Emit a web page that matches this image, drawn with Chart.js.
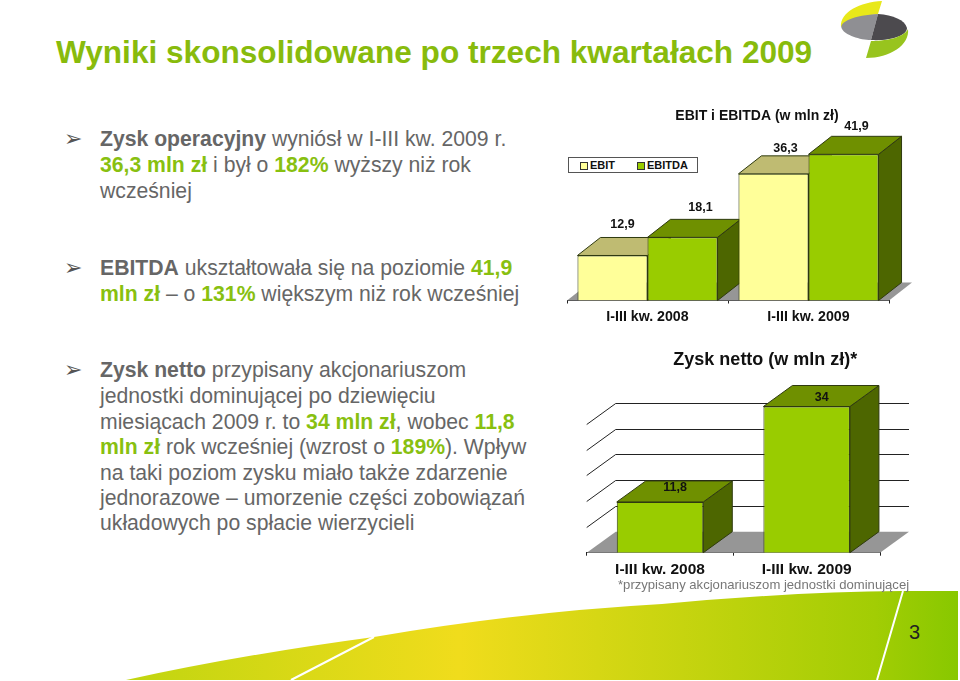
<!DOCTYPE html>
<html lang="pl">
<head>
<meta charset="utf-8">
<title>Wyniki skonsolidowane</title>
<script src="https://cdn.jsdelivr.net/npm/chart.js@4"></script>
<style>
  html, body { margin: 0; padding: 0; background: #fff; }
  #page { position: relative; width: 960px; height: 681px; overflow: hidden; font-family: "Liberation Sans", sans-serif; }
  #page canvas { position: absolute; }
  #decor { position: absolute; left: 0; top: 0; }
  .title { position: absolute; left: 56px; top: 34px; font-size: 31.6px; font-weight: bold; color: #88bb0c; white-space: nowrap; }
  .line { position: absolute; left: 100px; font-size: 21.2px; line-height: 26px; color: #666; white-space: nowrap; }
  .line b { color: #666; }
  .line b.g { color: #88c010; }
  .arrow { position: absolute; left: 64px; font-family: "DejaVu Sans"; font-size: 22px; line-height: 26px; color: #555; }
  #legend { position: absolute; left: 568px; top: 157px; width: 128px; height: 14px; border: 1px solid #555; background: #fff; font-size: 11px; font-weight: bold; color: #111; line-height: 14px; }
  #legend span { position: absolute; white-space: nowrap; }
  #legend i { position: absolute; top: 4px; width: 6px; height: 6px; border: 1px solid #333; }
  .note { position: absolute; left: 618px; top: 577px; font-size: 13.1px; color: #777; white-space: nowrap; }
  .pageno { position: absolute; left: 909px; top: 621px; font-size: 20px; color: #222; }
</style>
</head>
<body>
<div id="page">
  <svg id="decor" width="960" height="681">
    <defs>
      <linearGradient id="band" x1="126" x2="958" y1="0" y2="0" gradientUnits="userSpaceOnUse">
        <stop offset="0" stop-color="#c0d510"/>
        <stop offset="0.4" stop-color="#f0dc1c"/>
        <stop offset="0.9" stop-color="#a2cd04"/>
        <stop offset="1" stop-color="#88c800"/>
      </linearGradient>
    </defs>
    <path d="M126,680 Q240,655 374,637 Q520,612 662,604 Q790,592 902,591 L958,591 L958,680 Z" fill="url(#band)"/>
    <path d="M374,637 L291,680 M903,591 L877,680" stroke="#fff" stroke-width="2" fill="none"/>
    <path d="M882,1 C860,2 840,12 841,27 Q858,16 878,14 Z" fill="#e8e81a"/>
    <path d="M878,14 C855,15 838,22 842,29 C845,35 860,40 871,40 Z" fill="#8f8f93"/>
    <path d="M878,14 L871,40 C890,41 907,36 907,28 C905,20 893,15 878,14 Z" fill="#4c4a4e"/>
    <path d="M908,29 C905,36 890,41 871,41 L866,58 C890,58 910,45 908,29 Z" fill="#98c41e"/>
  </svg>

  <div class="title">Wyniki skonsolidowane po trzech kwartałach 2009</div>

  <div class="arrow" style="top:126px">➢</div>
  <div class="line" style="top:126px"><b>Zysk operacyjny</b> wyniósł w I-III kw. 2009 r.</div>
  <div class="line" style="top:152px"><b class="g">36,3 mln zł</b> i był o <b class="g">182%</b> wyższy niż rok</div>
  <div class="line" style="top:178px">wcześniej</div>

  <div class="arrow" style="top:255px">➢</div>
  <div class="line" style="top:255px"><b>EBITDA</b> ukształtowała się na poziomie <b class="g">41,9</b></div>
  <div class="line" style="top:281px"><b class="g">mln zł</b> – o <b class="g">131%</b> większym niż rok wcześniej</div>

  <div class="arrow" style="top:357px">➢</div>
  <div class="line" style="top:357px"><b>Zysk netto</b> przypisany akcjonariuszom</div>
  <div class="line" style="top:383px">jednostki dominującej po dziewięciu</div>
  <div class="line" style="top:409px">miesiącach 2009 r. to <b class="g">34 mln zł</b>, wobec <b class="g">11,8</b></div>
  <div class="line" style="top:434px"><b class="g">mln zł</b> rok wcześniej (wzrost o <b class="g">189%</b>). Wpływ</div>
  <div class="line" style="top:460px">na taki poziom zysku miało także zdarzenie</div>
  <div class="line" style="top:485px">jednorazowe – umorzenie części zobowiązań</div>
  <div class="line" style="top:510px">układowych po spłacie wierzycieli</div>

  <canvas id="ebitChart" width="394" height="230" style="left:560px;top:100px"></canvas>
  <div id="legend"></div>
  <canvas id="netChart" width="390" height="240" style="left:570px;top:340px"></canvas>

  <div class="note">*przypisany akcjonariuszom jednostki dominującej</div>
  <div class="pageno">3</div>
</div>

<script>
// data
const periods = ['I-III kw. 2008', 'I-III kw. 2009'];
const seriesNames = ['EBIT', 'EBITDA'];
const ebit = [12.9, 36.3];
const ebitda = [18.1, 41.9];
const netProfit = [11.8, 34];

const yellow = { front: '#ffff99', top: '#bfbb72', side: '#8c8a50' };
const green = { front: '#99cc00', top: '#6f9000', side: '#4d6600' };
const edge = '#2f3a10';
const labelFont = 'bold 12.5px "Liberation Sans"';

function poly(ctx, pts, fill) {
    ctx.beginPath();
    pts.forEach((p, i) => i ? ctx.lineTo(p[0], p[1]) : ctx.moveTo(p[0], p[1]));
    ctx.closePath();
    ctx.fillStyle = fill;
    ctx.fill();
    ctx.strokeStyle = edge;
    ctx.lineWidth = 1;
    ctx.stroke();
}

// Chart.js has no 3D bars any more, so the top and side are added from the bar elements
const bars3d = {
    id: 'bars3d',
    afterLayout(chart, args, opts) {
        // titles sit off centre of the plot in the original
        chart.titleBlock.left += opts.titleShift;
        chart.titleBlock.right += opts.titleShift;
    },
    beforeDatasetsDraw(chart, args, opts) {
        const ctx = chart.ctx;
        const a = chart.chartArea;
        const dx = opts.dx, dy = opts.dy;
        ctx.save();
        ctx.beginPath();
        ctx.moveTo(a.left, a.bottom);
        ctx.lineTo(a.left + dx, a.bottom - dy);
        ctx.lineTo(a.right + dx, a.bottom - dy);
        ctx.lineTo(a.right, a.bottom);
        ctx.closePath();
        ctx.fillStyle = '#969696';
        ctx.fill();
        if (opts.grid) {
            ctx.strokeStyle = '#222';
            ctx.lineWidth = 1;
            chart.scales.y.ticks.forEach(t => {
                if (t.value === 0) return;
                const y = Math.round(chart.scales.y.getPixelForValue(t.value)) + 0.5;
                ctx.beginPath();
                ctx.moveTo(a.left, y);
                ctx.lineTo(a.left + dx, y - dy);
                ctx.lineTo(a.right + dx, y - dy);
                ctx.stroke();
            });
        }
        chart.data.datasets.forEach((ds, i) => {
            const c = opts.faces[i];
            chart.getDatasetMeta(i).data.forEach(bar => {
                const l = bar.x - bar.width / 2, r = bar.x + bar.width / 2;
                poly(ctx, [[r, bar.y], [r + dx, bar.y - dy], [r + dx, bar.base - dy], [r, bar.base]], c.side);
                poly(ctx, [[l, bar.y], [l + dx, bar.y - dy], [r + dx, bar.y - dy], [r, bar.y]], c.top);
            });
        });
        ctx.restore();
    },
    afterDatasetsDraw(chart, args, opts) {
        const ctx = chart.ctx;
        ctx.save();
        ctx.font = opts.font;
        ctx.fillStyle = '#111';
        ctx.textAlign = 'center';
        ctx.textBaseline = 'middle';
        chart.data.datasets.forEach((ds, i) => {
            chart.getDatasetMeta(i).data.forEach((bar, j) => {
                const off = opts.labelOffsets[i][j];
                ctx.fillText(String(ds.data[j]).replace('.', ','), bar.x + off[0], bar.y + off[1]);
            });
        });
        ctx.restore();
    }
};

function xAxis(height, size, pad) {
    return {
        offset: true,
        z: 1,
        afterFit: s => { s.height = height; },
        border: { color: '#222' },
        grid: { drawOnChartArea: false, offset: true, tickLength: 3, color: '#222' },
        ticks: { color: '#111', padding: pad, maxRotation: 0, font: { family: 'Liberation Sans', size: size, weight: 'bold' } }
    };
}

function titleOpts(text, size, top, bottom) {
    return {
        display: true,
        text: text,
        color: '#111',
        padding: { top: top, bottom: bottom },
        font: { family: 'Liberation Sans', size: size, weight: 'bold' }
    };
}

new Chart(document.getElementById('ebitChart'), {
    type: 'bar',
    data: {
        labels: periods,
        datasets: [
            { label: seriesNames[0], data: ebit, backgroundColor: yellow.front, borderColor: edge, borderWidth: 1 },
            { label: seriesNames[1], data: ebitda, backgroundColor: green.front, borderColor: edge, borderWidth: 1 }
        ]
    },
    options: {
        responsive: false,
        animation: false,
        layout: { padding: { left: 7, right: 65 } },
        datasets: { bar: { categoryPercentage: 0.87, barPercentage: 1 } },
        scales: {
            x: xAxis(29.5, 14.2, 5),
            y: { display: false, min: 0, max: 45 }
        },
        plugins: {
            legend: { display: false },
            tooltip: { enabled: false },
            title: titleOpts('EBIT i EBITDA (w mln zł)', 14, 8, 18.7),
            bars3d: {
                dx: 23, dy: 18, grid: false, font: labelFont, titleShift: 29,
                faces: [yellow, green],
                labelOffsets: [[[10, -31], [12, -25]], [[18, -30], [13, -28]]]
            }
        }
    },
    plugins: [bars3d]
});

// html legend, the real one has a box round it in a spot the chart legend can't reach
const legend = document.getElementById('legend');
[[yellow, 11, 21], [green, 68, 78]].forEach((p, i) => {
    const sw = document.createElement('i');
    sw.style.left = p[1] + 'px';
    sw.style.background = p[0].front;
    const txt = document.createElement('span');
    txt.style.left = p[2] + 'px';
    txt.textContent = seriesNames[i];
    legend.append(sw, txt);
});

new Chart(document.getElementById('netChart'), {
    type: 'bar',
    data: {
        labels: periods,
        datasets: [{ label: 'Zysk netto', data: netProfit, backgroundColor: green.front, borderColor: edge, borderWidth: 1 }]
    },
    options: {
        responsive: false,
        animation: false,
        layout: { padding: { left: 16.7, right: 80 } },
        datasets: { bar: { categoryPercentage: 0.59, barPercentage: 1 } },
        scales: {
            x: xAxis(27.3, 15.5, 5),
            y: { display: false, min: 0, max: 35, ticks: { stepSize: 6, includeBounds: false } }
        },
        plugins: {
            legend: { display: false },
            tooltip: { enabled: false },
            title: titleOpts('Zysk netto (w mln zł)*', 18, 9, 31.6),
            bars3d: {
                dx: 29, dy: 21, grid: true, font: labelFont, titleShift: 32,
                faces: [green],
                labelOffsets: [[[15, -14], [15, -9]]]
            }
        }
    },
    plugins: [bars3d]
});
</script>
</body>
</html>
